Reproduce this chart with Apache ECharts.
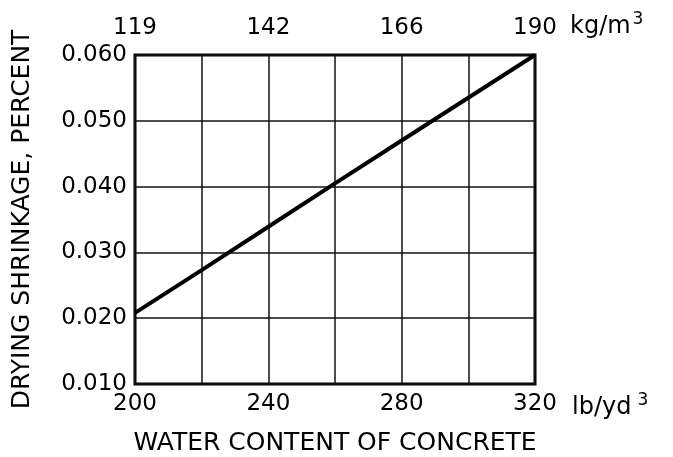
<!DOCTYPE html>
<html>
<head>
<meta charset="utf-8">
<style>
html,body{margin:0;padding:0;background:#fff;}
#chart{width:673px;height:457px;}
</style>
<script src="https://cdn.jsdelivr.net/npm/echarts@6/dist/echarts.min.js"></script>
</head>
<body>
<div id="chart"></div>
<script>
// Water content of concrete, lb/yd3
const waterLbYd3 = [200, 220, 240, 260, 280, 300, 320];
// Drying shrinkage, percent
const shrinkage = [0.0208, 0.0273, 0.0339, 0.0405, 0.0470, 0.0535, 0.0600];
// Bottom axis ticks (lb/yd3) and matching top axis labels (kg/m3)
const bottomTicks = [200, 240, 280, 320];
const topTickLabels = ['119', '142', '166', '190'];
const yTicks = [0.010, 0.020, 0.030, 0.040, 0.050, 0.060];

const FONT = 'DejaVu Sans';
const chart = echarts.init(document.getElementById('chart'), null, {renderer: 'canvas'});

const seriesData = waterLbYd3.map((x, i) => [x, shrinkage[i]]);

chart.setOption({
  animation: false,
  backgroundColor: '#fff',
  grid: {left: 135, right: 138, top: 55, bottom: 73, containLabel: false, outerBoundsMode: 'none',
         show: true, borderColor: '#000', borderWidth: 3, backgroundColor: 'transparent'},
  xAxis: [
    {
      type: 'value', position: 'bottom', min: 200, max: 320, interval: 20,
      name: 'WATER CONTENT OF CONCRETE', nameLocation: 'middle', nameGap: 47,
      nameTextStyle: {fontFamily: FONT, fontSize: 25, color: '#000'},
      axisLine: {show: false}, axisTick: {show: false},
      splitLine: {show: true, lineStyle: {color: '#111', width: 1.5}},
      axisLabel: {
        fontFamily: FONT, fontSize: 23, color: '#000', margin: 9,
        formatter: v => bottomTicks.indexOf(v) >= 0 ? String(v) : ''
      }
    },
    {
      type: 'value', position: 'top', min: 200, max: 320, interval: 40,
      name: '{u|kg/m}{s|3}', nameLocation: 'end', nameGap: 35,
      nameTextStyle: {
        verticalAlign: 'bottom', padding: [0, 0, 13, 0],
        rich: {
          u: {fontFamily: FONT, fontSize: 24, color: '#000'},
          s: {fontFamily: FONT, fontSize: 17, color: '#000', padding: [0, 0, 14, 2]}
        }
      },
      axisLine: {show: false}, axisTick: {show: false}, splitLine: {show: false},
      axisLabel: {
        fontFamily: FONT, fontSize: 23, color: '#000', margin: 15,
        formatter: v => topTickLabels[bottomTicks.indexOf(v)] || ''
      }
    },
    {
      type: 'value', position: 'bottom', min: 200, max: 320, interval: 40,
      name: '{u|lb/yd}{s|3}', nameLocation: 'end', nameGap: 37,
      nameTextStyle: {
        verticalAlign: 'top', padding: [8, 0, 0, 0],
        rich: {
          u: {fontFamily: FONT, fontSize: 24, color: '#000'},
          s: {fontFamily: FONT, fontSize: 17, color: '#000', padding: [0, 0, 14, 6]}
        }
      },
      axisLine: {show: false}, axisTick: {show: false}, splitLine: {show: false},
      axisLabel: {show: false}
    }
  ],
  yAxis: {
    type: 'value', min: 0.010, max: 0.060, interval: 0.010,
    name: 'DRYING SHRINKAGE, PERCENT', nameLocation: 'middle', nameGap: 100, nameRotate: 90,
    nameTextStyle: {fontFamily: FONT, fontSize: 25, color: '#000'},
    axisLine: {show: false}, axisTick: {show: false},
    splitLine: {show: true, lineStyle: {color: '#111', width: 1.5}},
    axisLabel: {
      fontFamily: FONT, fontSize: 23, color: '#000', margin: 8,
      formatter: v => v.toFixed(3)
    }
  },
  series: [{
    type: 'line', xAxisIndex: 0, data: seriesData, showSymbol: false,
    lineStyle: {color: '#000', width: 4}, silent: true
  }]
});
</script>
</body>
</html>
